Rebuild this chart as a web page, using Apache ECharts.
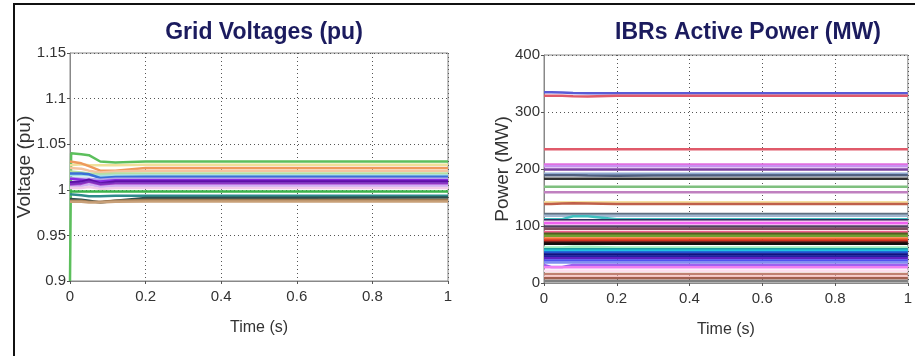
<!DOCTYPE html>
<html>
<head>
<meta charset="utf-8">
<script src="https://cdn.jsdelivr.net/npm/echarts@6/dist/echarts.min.js"></script>
<style>
  html, body { margin: 0; padding: 0; background: #fff; }
  #chart { width: 915px; height: 356px; }
</style>
</head>
<body>
<div id="chart"></div>
<script>
// x ticks shared by both panels
const timeTicks = [0, 0.2, 0.4, 0.6, 0.8, 1];

// grid voltages (pu), sampled at vTime
const vTime = [0, 0.003, 0.03, 0.05, 0.08, 0.12, 0.2, 1];
const voltageValues = [
  [0.9, 1.04, 1.039, 1.038, 1.031, 1.03, 1.031, 1.031],
  [1.027, 1.027, 1.028, 1.027, 1.027, 1.027, 1.0274, 1.0274],
  [1.031, 1.031, 1.029, 1.026, 1.021, 1.021, 1.024, 1.024],
  [1.024, 1.024, 1.023, 1.021, 1.019, 1.02, 1.021, 1.021],
  [1.02, 1.02, 1.019, 1.018, 1.017, 1.018, 1.018, 1.018],
  [1.016, 1.016, 1.016, 1.016, 1.015, 1.0157, 1.0157, 1.0157],
  [1.018, 1.018, 1.018, 1.017, 1.013, 1.014, 1.0143, 1.0143],
  [1.013, 1.013, 1.012, 1.012, 1.011, 1.012, 1.012, 1.012],
  [1.012, 1.012, 1.011, 1.01, 1.009, 1.0106, 1.0106, 1.0106],
  [1.008, 1.008, 1.009, 1.011, 1.007, 1.009, 1.009, 1.009],
  [1.006, 1.006, 1.007, 1.009, 1.006, 1.007, 1.007, 1.007],
  [1.004, 1.004, 1.005, 1.007, 1.004, 1.0055, 1.0055, 1.0055],
  [1.003, 1.003, 1.004, 1.006, 1.003, 1.0044, 1.0044, 1.0044],
  [1.002, 1.002, 1.002, 1.003, 1.001, 1.002, 1.002, 1.002],
  [0.998, 0.998, 0.998, 0.998, 0.998, 0.998, 0.998, 0.998],
  [0.995, 0.995, 0.994, 0.993, 0.993, 0.9934, 0.9934, 0.9934],
  [0.99, 0.99, 0.989, 0.988, 0.986, 0.988, 0.991, 0.9916],
  [0.988, 0.988, 0.988, 0.987, 0.987, 0.988, 0.9887, 0.9887],
  [0.987, 0.987, 0.987, 0.986, 0.986, 0.987, 0.9872, 0.9872]
];
const voltageColors = [
  '#5cbf5c', '#f0e09a', '#ee9a5c', '#f5c3a0', '#b6dea0', '#a4dfe6', '#3a6fd8',
  '#b3a3ea', '#8a2be2', '#5e0fa6', '#7b2fbe', '#a23cc8', '#d0b0f4', '#f2cbe8',
  '#3cb44b', '#2e8b8b', '#2f4f4f', '#a07850', '#c8a078'
];

// IBR active power (MW): steady levels, plus early samples at pTime where they move
const pTime = [0, 0.02, 0.05, 0.08, 0.12, 0.2, 0.3, 1];
const powerLevels = [
  333, 328.6, 234.6, 208, 205, 199, 191.7, 189, 183, 168.8, 159, 141.6, 138.8,
  121, 118, 112, 110, 107.6, 105, 99.3, 95, 89.4, 86.4, 82.9, 78, 74.6, 71, 68.8,
  62.3, 59.4, 56.4, 53.4, 50, 46.4, 43.6, 39.3, 35.8, 31.7, 27.7, 21.7, 15.9, 11, 8.3, 3.5
];
const powerEarly = {
  0: [334.5, 334.5, 334, 333.5, 333, 333, 333, 333],
  1: [328.6, 328.6, 328.6, 327.5, 327, 328.6, 328.6, 328.6],
  7: [189, 189, 189, 189, 188.5, 188, 188.5, 189],
  12: [138.8, 138.8, 139.6, 139.8, 139.5, 138.8, 138.8, 138.8],
  15: [112, 112, 112, 117, 117, 112, 112, 112],
  28: [62.3, 62.3, 62.3, 63.5, 63.5, 62.3, 62.3, 62.3],
  37: [31.7, 28, 28, 31.7, 31.7, 31.7, 31.7, 31.7]
};
const powerColors = [
  '#5b5bd6', '#e05a6a', '#e05a6a', '#e070e0', '#c890f0', '#7b3fa0', '#8fa8d0',
  '#506080', '#303030', '#7fc07f', '#c080c0', '#f5e0a0', '#c0604a', '#607080',
  '#a0b8d0', '#40c0c0', '#303060', '#f8c0f0', '#f060f0', '#504060', '#805060',
  '#f06090', '#506020', '#70a030', '#f07030', '#d03020', '#501010', '#101010',
  '#a0f0c0', '#20a0a0', '#20c0e0', '#2050d0', '#101080', '#2020a0', '#6020c0',
  '#5050f0', '#8090f0', '#a060f0', '#f080f0', '#fce0f0', '#c08070', '#f8c0c0',
  '#a06050', '#808080'
];

const sansFont = "'Liberation Sans', Arial, sans-serif";
const titleColor = '#1b1b5e';

function xAxisOf(gridIndex) {
  return {
    type: 'value',
    gridIndex: gridIndex,
    min: timeTicks[0],
    max: timeTicks[timeTicks.length - 1],
    interval: 0.2,
    name: 'Time (s)',
    nameLocation: 'middle',
    nameGap: 39,
    nameMoveOverlap: false,
    nameTextStyle: { color: '#333', fontSize: 16, fontFamily: sansFont },
    axisLine: { show: true, lineStyle: { color: '#888', width: 1 } },
    axisTick: { show: true, length: 3, lineStyle: { color: '#555' } },
    axisLabel: { color: '#333', fontSize: 15, fontFamily: sansFont, margin: 8 },
    splitLine: { show: true, lineStyle: { color: '#555', type: [1, 3], width: 1 } }
  };
}

function yAxisOf(gridIndex, name, min, max, interval, gap) {
  return {
    type: 'value',
    gridIndex: gridIndex,
    min: min,
    max: max,
    interval: interval,
    name: name,
    nameLocation: 'middle',
    nameGap: gap,
    nameRotate: 90,
    nameMoveOverlap: false,
    nameTextStyle: { color: '#333', fontSize: 19, fontFamily: sansFont },
    axisLine: { show: true, lineStyle: { color: '#888', width: 1 } },
    axisTick: { show: true, length: 3, lineStyle: { color: '#555' } },
    axisLabel: { color: '#333', fontSize: 15, fontFamily: sansFont, margin: 4 },
    splitLine: { show: true, lineStyle: { color: '#555', type: [1, 3], width: 1 } }
  };
}

const series = [];
voltageValues.forEach((vals, i) => {
  series.push({
    type: 'line',
    xAxisIndex: 0,
    yAxisIndex: 0,
    showSymbol: false,
    symbol: 'none',
    lineStyle: { width: 2.5, color: voltageColors[i] },
    data: vTime.map((t, k) => [t, vals[k]])
  });
});
powerLevels.forEach((lvl, i) => {
  const early = powerEarly[i];
  const data = early ? pTime.map((t, k) => [t, early[k]]) : [[0, lvl], [1, lvl]];
  series.push({
    type: 'line',
    xAxisIndex: 1,
    yAxisIndex: 1,
    showSymbol: false,
    symbol: 'none',
    lineStyle: { width: 2.5, color: powerColors[i] },
    data: data
  });
});

const chart = echarts.init(document.getElementById('chart'), null, { renderer: 'canvas' });
chart.setOption({
  animation: false,
  backgroundColor: '#fff',
  title: [
    {
      text: 'Grid Voltages (pu)',
      left: 259, top: 16, textAlign: 'center',
      textStyle: { color: titleColor, fontSize: 23, fontWeight: 'bold', fontFamily: sansFont }
    },
    {
      text: 'IBRs Active Power (MW)',
      left: 743, top: 16, textAlign: 'center',
      textStyle: { color: titleColor, fontSize: 23, fontWeight: 'bold', fontFamily: sansFont }
    }
  ],
  grid: [
    { left: 70, top: 53, width: 378, height: 228, show: true, borderColor: '#888', borderWidth: 1, backgroundColor: '#fff' },
    { left: 544, top: 55, width: 383, height: 228, show: true, borderColor: '#888', borderWidth: 1, backgroundColor: '#fff' }
  ],
  xAxis: [xAxisOf(0), xAxisOf(1)],
  yAxis: [
    yAxisOf(0, 'Voltage (pu)', 0.9, 1.15, 0.05, 36),
    yAxisOf(1, 'Power (MW)', 0, 400, 100, 32)
  ],
  graphic: [
    {
      type: 'rect',
      shape: { x: 14, y: 4, width: 1000, height: 400 },
      style: { fill: 'none', stroke: '#111', lineWidth: 2 },
      silent: true,
      z: 100
    }
  ],
  series: series
});
</script>
</body>
</html>
